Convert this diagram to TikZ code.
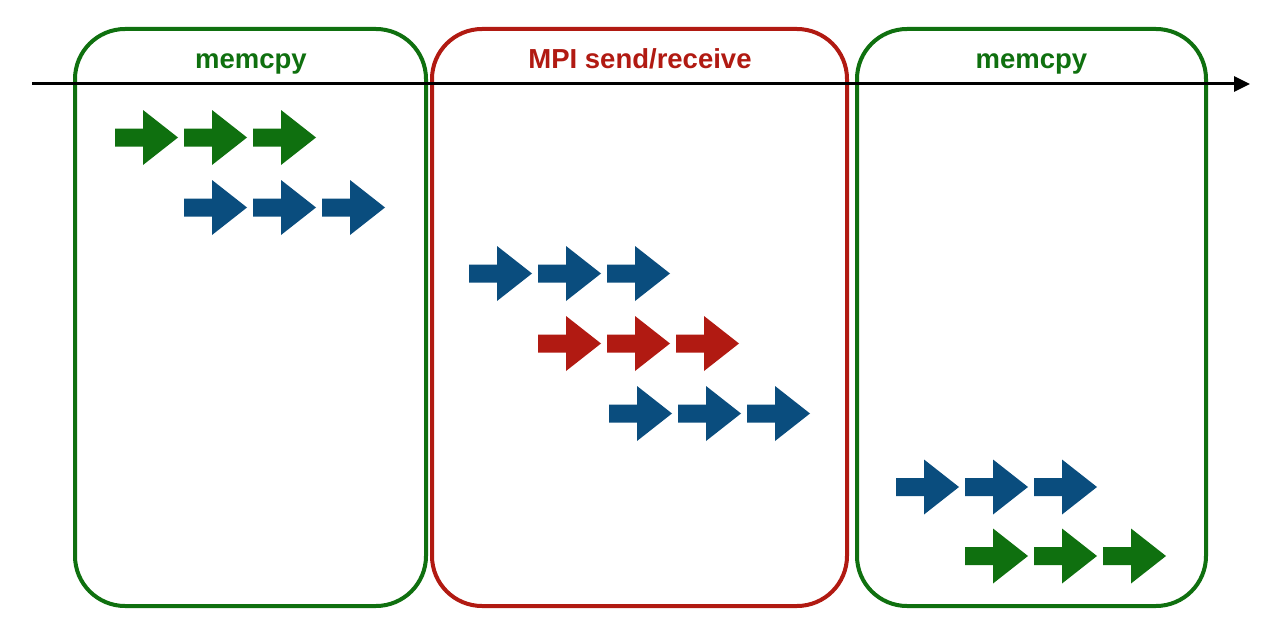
\documentclass[tikz,border=0pt]{standalone}
\usepackage{fontspec}
\setmainfont{Liberation Sans}
\usetikzlibrary{arrows.meta}
\definecolor{cgreen}{HTML}{0F700F}
\definecolor{cblue}{HTML}{0A4D7E}
\definecolor{cred}{HTML}{B11A12}
\tikzset{
  fat/.pic={\fill (0,-9) -- (28,-9) -- (28,-27.5) -- (63,0) -- (28,27.5) -- (28,9) -- (0,9) -- cycle;},
  phase/.style={draw=#1, line width=4pt, rounded corners=50pt, inner sep=0pt},
  ttl/.style={text=#1, font=\fontsize{27.5}{30}\selectfont\bfseries, anchor=base},
}
\begin{document}
\begin{tikzpicture}[x=1pt,y=-1pt]
\useasboundingbox (0,0) rectangle (1278,642);
\fill[white] (0,0) rectangle (1278,642);
% phase boxes
\node[phase=cgreen, minimum width=351pt, minimum height=577pt] (b1) at (250.5,317.5) {};
\node[phase=cred, minimum width=415pt, minimum height=577pt] (b2) at (639.5,317.5) {};
\node[phase=cgreen, minimum width=349pt, minimum height=577pt] (b3) at (1031.5,317.5) {};
% titles
\node[ttl=cgreen] (t1) at (251,68.5) {memcpy};
\node[ttl=cred] (t2) at (640,68.5) {MPI send/receive};
\node[ttl=cgreen] (t3) at (1031.5,68.5) {memcpy};
% time axis
\coordinate (a0) at (32,84);
\coordinate (a1) at (1250,84);
\draw[line width=3pt, -{Triangle[length=16pt,width=15pt]}] (a0) -- (a1);
% arrows
\foreach \x in {115,184,253} \pic[cgreen] at (\x,137.5) {fat};
\foreach \x in {184,253,322} \pic[cblue] at (\x,207.5) {fat};
\foreach \x in {469,538,607} \pic[cblue] at (\x,273.5) {fat};
\foreach \x in {538,607,676} \pic[cred] at (\x,343.5) {fat};
\foreach \x in {609,678,747} \pic[cblue] at (\x,413.5) {fat};
\foreach \x in {896,965,1034} \pic[cblue] at (\x,487) {fat};
\foreach \x in {965,1034,1103} \pic[cgreen] at (\x,556) {fat};
\end{tikzpicture}
\end{document}
